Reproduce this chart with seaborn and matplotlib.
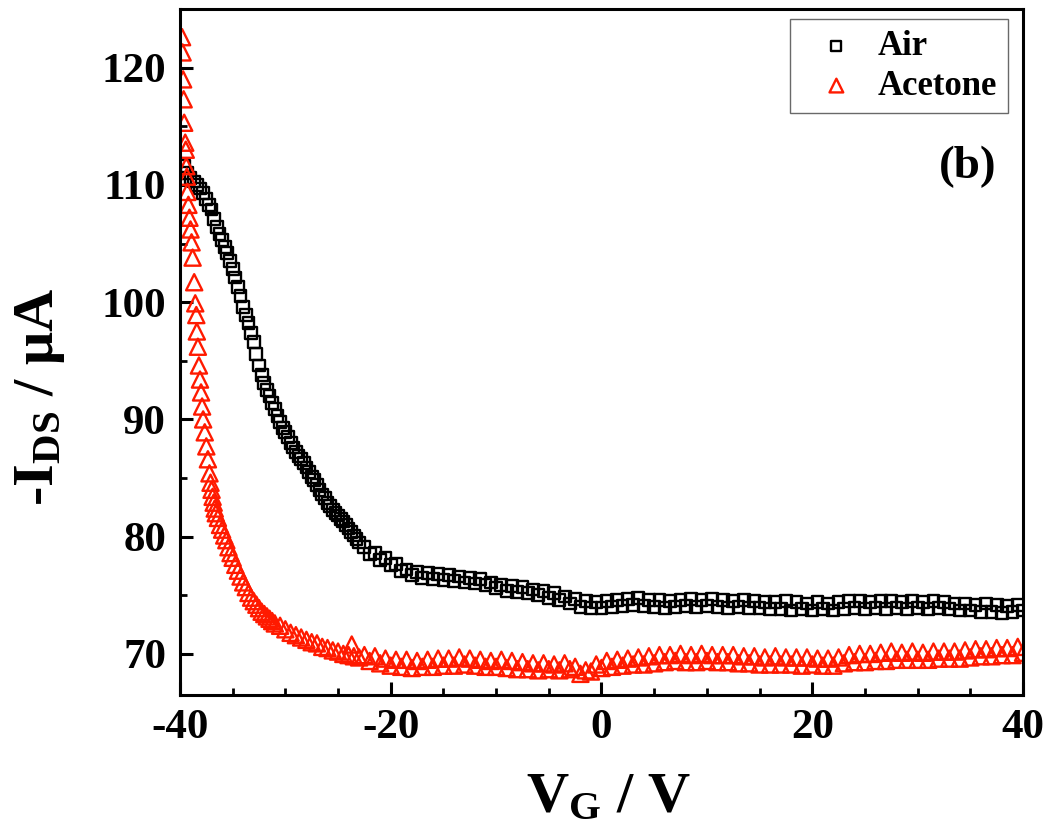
import matplotlib
matplotlib.use("Agg")
import matplotlib.pyplot as plt
from matplotlib.ticker import MultipleLocator
import seaborn as sns

# gate voltage (V) and -I_DS (uA), air atmosphere
air_v = [-39.6, -39.3, -39.0, -38.7, -38.4, -38.1, -37.8, -37.5, -37.25, -37.0,
         -36.75, -36.5, -36.25, -36.0, -35.75, -35.5, -35.25, -35.0, -34.75, -34.5,
         -34.25, -34.0, -33.75, -33.5, -33.25, -33.0, -32.75, -32.5, -32.25, -32.0,
         -31.75, -31.5, -31.25, -31.0, -30.75, -30.5, -30.25, -30.0, -29.75, -29.5,
         -29.25, -29.0, -28.75, -28.5, -28.25, -28.0, -27.75, -27.5, -27.25, -27.0,
         -26.75, -26.5, -26.25, -26.0, -25.75, -25.5, -25.25, -25.0, -24.75, -24.5,
         -24.25, -24.0, -23.75, -23.5, -23.25, -23.0,
         -22.5, -22.0, -21.5, -21.0, -20.5, -20.0, -19.5, -19.0, -18.5, -18.0,
         -17.5, -17.0, -16.5, -16.0, -15.5, -15.0, -14.5, -14.0, -13.5, -13.0,
         -12.5, -12.0, -11.5, -11.0, -10.5, -10.0, -9.5, -9.0, -8.5, -8.0,
         -7.5, -7.0, -6.5, -6.0, -5.5, -5.0, -4.5, -4.0, -3.5, -3.0,
         -2.5, -2.0, -1.5, -1.0, -0.5, 0.0, 0.5, 1.0, 1.5, 2.0,
         2.5, 3.0, 3.5, 4.0, 4.5, 5.0, 5.5, 6.0, 6.5, 7.0,
         7.5, 8.0, 8.5, 9.0, 9.5, 10.0, 10.5, 11.0, 11.5, 12.0,
         12.5, 13.0, 13.5, 14.0, 14.5, 15.0, 15.5, 16.0, 16.5, 17.0,
         17.5, 18.0, 18.5, 19.0, 19.5, 20.0, 20.5, 21.0, 21.5, 22.0,
         22.5, 23.0, 23.5, 24.0, 24.5, 25.0, 25.5, 26.0, 26.5, 27.0,
         27.5, 28.0, 28.5, 29.0, 29.5, 30.0, 30.5, 31.0, 31.5, 32.0,
         32.5, 33.0, 33.5, 34.0, 34.5, 35.0, 35.5, 36.0, 36.5, 37.0,
         37.5, 38.0, 38.5, 39.0, 39.5, 40.0]
air_i = [111.6, 111.0, 110.6, 110.3, 110.0, 109.7, 109.3, 108.8, 108.3, 107.9,
         107.1, 106.4, 105.8, 105.3, 104.7, 104.2, 103.5, 102.8, 102.1, 101.3,
         100.5, 99.6, 98.9, 98.2, 97.4, 96.6, 95.6, 94.6, 93.8, 93.1,
         92.5, 92.0, 91.4, 90.9, 90.3, 89.8, 89.3, 88.9, 88.5, 88.0,
         87.6, 87.2, 86.9, 86.6, 86.3, 85.9, 85.5, 85.1, 84.8, 84.4,
         84.0, 83.6, 83.3, 82.9, 82.6, 82.3, 82.0, 81.8, 81.5, 81.3,
         81.0, 80.7, 80.4, 80.1, 79.8, 79.5,
         79.1, 78.5, 78.6, 78.0, 78.2, 77.6, 77.7, 77.1, 77.2, 76.7,
         77.0, 76.5, 76.9, 76.4, 76.8, 76.3, 76.7, 76.2, 76.6, 76.1,
         76.5, 76.0, 76.4, 75.9, 76.1, 75.6, 75.9, 75.4, 75.8, 75.3,
         75.7, 75.2, 75.5, 75.0, 75.4, 74.8, 75.2, 74.6, 74.9, 74.3,
         74.7, 74.0, 74.5, 73.9, 74.4, 73.9, 74.5, 74.0, 74.6, 74.1,
         74.7, 74.2, 74.8, 74.1, 74.6, 74.0, 74.6, 73.9, 74.5, 74.0,
         74.6, 74.1, 74.7, 74.0, 74.6, 74.1, 74.7, 74.0, 74.6, 73.9,
         74.5, 74.0, 74.6, 73.9, 74.5, 73.9, 74.4, 73.8, 74.4, 73.8,
         74.5, 73.7, 74.4, 73.8, 74.3, 73.7, 74.4, 73.8, 74.3, 73.7,
         74.4, 73.8, 74.5, 73.9, 74.5, 73.8, 74.4, 73.9, 74.5, 73.8,
         74.5, 73.9, 74.4, 73.8, 74.5, 73.9, 74.4, 73.8, 74.5, 73.9,
         74.4, 73.8, 74.3, 73.7, 74.3, 73.7, 74.2, 73.6, 74.3, 73.6,
         74.2, 73.5, 74.1, 73.6, 74.2, 73.7]

# acetone atmosphere
acetone_v = [-39.8, -39.75, -39.7, -39.65, -39.6, -39.5, -39.45, -39.4, -39.35, -39.3,
             -39.2, -39.1, -39.0, -38.9, -38.8, -38.65, -38.55, -38.45, -38.4, -38.3,
             -38.2, -38.1, -38.0, -37.9, -37.8, -37.65, -37.5, -37.35, -37.2, -37.1,
             -37.0, -36.9, -36.8, -36.7, -36.6, -36.4, -36.2, -36.0, -35.8, -35.6,
             -35.4, -35.2, -35.0, -34.75, -34.5, -34.25, -34.0, -33.75, -33.5, -33.25,
             -33.0, -32.75, -32.5, -32.25, -32.0, -31.75, -31.5, -31.25, -31.0, -30.5,
             -30.0, -29.5, -29.0, -28.5, -28.0, -27.5, -27.0, -26.5, -26.0, -25.5,
             -25.0, -24.5, -24.0, -23.7, -23.5, -23.0,
             -22.5, -22.0, -21.5, -21.0, -20.5, -20.0, -19.5, -19.0, -18.5, -18.0,
             -17.5, -17.0, -16.5, -16.0, -15.5, -15.0, -14.5, -14.0, -13.5, -13.0,
             -12.5, -12.0, -11.5, -11.0, -10.5, -10.0, -9.5, -9.0, -8.5, -8.0,
             -7.5, -7.0, -6.5, -6.0, -5.5, -5.0, -4.5, -4.0, -3.5, -3.0,
             -2.5, -2.0, -1.5, -1.0, -0.5, 0.0, 0.5, 1.0, 1.5, 2.0,
             2.5, 3.0, 3.5, 4.0, 4.5, 5.0, 5.5, 6.0, 6.5, 7.0,
             7.5, 8.0, 8.5, 9.0, 9.5, 10.0, 10.5, 11.0, 11.5, 12.0,
             12.5, 13.0, 13.5, 14.0, 14.5, 15.0, 15.5, 16.0, 16.5, 17.0,
             17.5, 18.0, 18.5, 19.0, 19.5, 20.0, 20.5, 21.0, 21.5, 22.0,
             22.5, 23.0, 23.5, 24.0, 24.5, 25.0, 25.5, 26.0, 26.5, 27.0,
             27.5, 28.0, 28.5, 29.0, 29.5, 30.0, 30.5, 31.0, 31.5, 32.0,
             32.5, 33.0, 33.5, 34.0, 34.5, 35.0, 35.5, 36.0, 36.5, 37.0,
             37.5, 38.0, 38.5, 39.0, 39.5, 40.0]
acetone_i = [122.6, 121.3, 119.0, 117.3, 115.3, 113.6, 113.0, 111.6, 110.7, 109.4,
             108.3, 107.2, 106.2, 105.1, 103.8, 101.7, 99.9, 98.9, 97.5, 96.2,
             94.6, 93.4, 92.3, 91.1, 90.0, 88.9, 87.7, 86.6, 85.4, 84.6,
             84.0, 83.4, 82.9, 82.4, 82.0, 81.6, 81.0, 80.6, 80.1, 79.7,
             79.1, 78.6, 78.2, 77.6, 77.1, 76.6, 76.1, 75.7, 75.2, 74.8,
             74.5, 74.2, 73.9, 73.6, 73.4, 73.2, 73.0, 72.8, 72.6, 72.4,
             72.1, 71.8, 71.6, 71.4, 71.2, 71.0, 70.9, 70.6, 70.5, 70.3,
             70.2, 70.0, 69.9, 70.8, 69.8, 69.7,
             69.9, 69.4, 69.8, 69.2, 69.6, 69.0, 69.5, 68.9, 69.5, 68.8,
             69.4, 68.9, 69.5, 68.9, 69.6, 69.0, 69.6, 69.0, 69.7, 69.1,
             69.6, 69.0, 69.5, 68.9, 69.4, 68.9, 69.5, 68.8, 69.4, 68.7,
             69.3, 68.7, 69.2, 68.6, 69.2, 68.7, 69.1, 68.6, 69.2, 68.7,
             68.9, 68.3, 68.6, 68.5, 69.1, 68.8, 69.4, 68.9, 69.5, 69.0,
             69.6, 69.1, 69.7, 69.1, 69.8, 69.2, 69.9, 69.3, 69.9, 69.4,
             70.0, 69.3, 69.9, 69.3, 70.0, 69.4, 69.9, 69.3, 69.9, 69.3,
             69.9, 69.2, 69.8, 69.2, 69.8, 69.1, 69.7, 69.1, 69.8, 69.1,
             69.7, 69.1, 69.7, 69.0, 69.7, 69.1, 69.6, 69.0, 69.6, 69.0,
             69.7, 69.2, 69.9, 69.3, 70.0, 69.3, 70.0, 69.4, 70.1, 69.4,
             70.2, 69.5, 70.1, 69.5, 70.2, 69.5, 70.1, 69.5, 70.2, 69.6,
             70.2, 69.6, 70.2, 69.6, 70.3, 69.7, 70.4, 69.8, 70.4, 69.8,
             70.5, 69.9, 70.5, 69.9, 70.6, 70.1]

x_major = [-40, -20, 0, 20, 40]
y_major = [70, 80, 90, 100, 110, 120]

sns.set_style("ticks")
plt.rcParams['font.family'] = ['Liberation Serif', 'DejaVu Serif']
plt.rcParams['font.weight'] = 'bold'
plt.rcParams['mathtext.fontset'] = 'custom'
plt.rcParams['mathtext.rm'] = 'Liberation Serif:bold'
plt.rcParams['mathtext.it'] = 'Liberation Serif:bold'
plt.rcParams['mathtext.bf'] = 'Liberation Serif:bold'
plt.rcParams['axes.unicode_minus'] = False
for key in ['text.color', 'axes.labelcolor', 'xtick.color', 'ytick.color',
            'axes.edgecolor']:
    plt.rcParams[key] = 'black'

fig = plt.figure(figsize=(10.5, 8.36), dpi=100)
ax = fig.add_axes([0.1714, 0.1687, 0.8029, 0.8205])

sns.scatterplot(x=air_v, y=air_i, marker='s', s=72, facecolors='none',
                edgecolor='black', linewidth=1.7, label='Air', ax=ax)
sns.scatterplot(x=acetone_v, y=acetone_i, marker='^', s=135, facecolors='none',
                edgecolor='#ff1a00', linewidth=1.7, label='Acetone', ax=ax)

ax.set_xlim(-40, 40)
ax.set_ylim(66.5, 125)
ax.set_xticks(x_major)
ax.set_yticks(y_major)
ax.xaxis.set_minor_locator(MultipleLocator(5))
ax.yaxis.set_minor_locator(MultipleLocator(5))
ax.tick_params(which='major', direction='in', length=9.5, width=2.2,
               labelsize=31, pad=10, top=False, right=False, colors='black')
ax.tick_params(which='minor', direction='in', length=5, width=2,
               top=False, right=False, colors='black')
for sp in ax.spines.values():
    sp.set_linewidth(2.2)
    sp.set_color('black')

ax.set_xlabel('V$_{\\mathrm{G}}$ / V', fontsize=42, fontweight='bold')
ax.set_ylabel('-I$_{\\mathrm{DS}}$ / μA', fontsize=42, fontweight='bold')
ax.xaxis.set_label_coords(0.508, -0.112)
ax.yaxis.set_label_coords(-0.134, 0.434)

ax.text(0.934, 0.77, '(b)', transform=ax.transAxes, ha='center', va='center',
        fontsize=34, fontweight='bold')

leg = ax.legend(loc='upper right', bbox_to_anchor=(0.982, 0.985), borderaxespad=0,
                frameon=True, fancybox=False, fontsize=25, handletextpad=0.15,
                labelspacing=0.2, borderpad=0.3, handlelength=2.1, markerscale=0.85)
leg.get_frame().set_edgecolor('#444444')
leg.get_frame().set_linewidth(1.0)

fig.savefig('out.png', dpi=100)
